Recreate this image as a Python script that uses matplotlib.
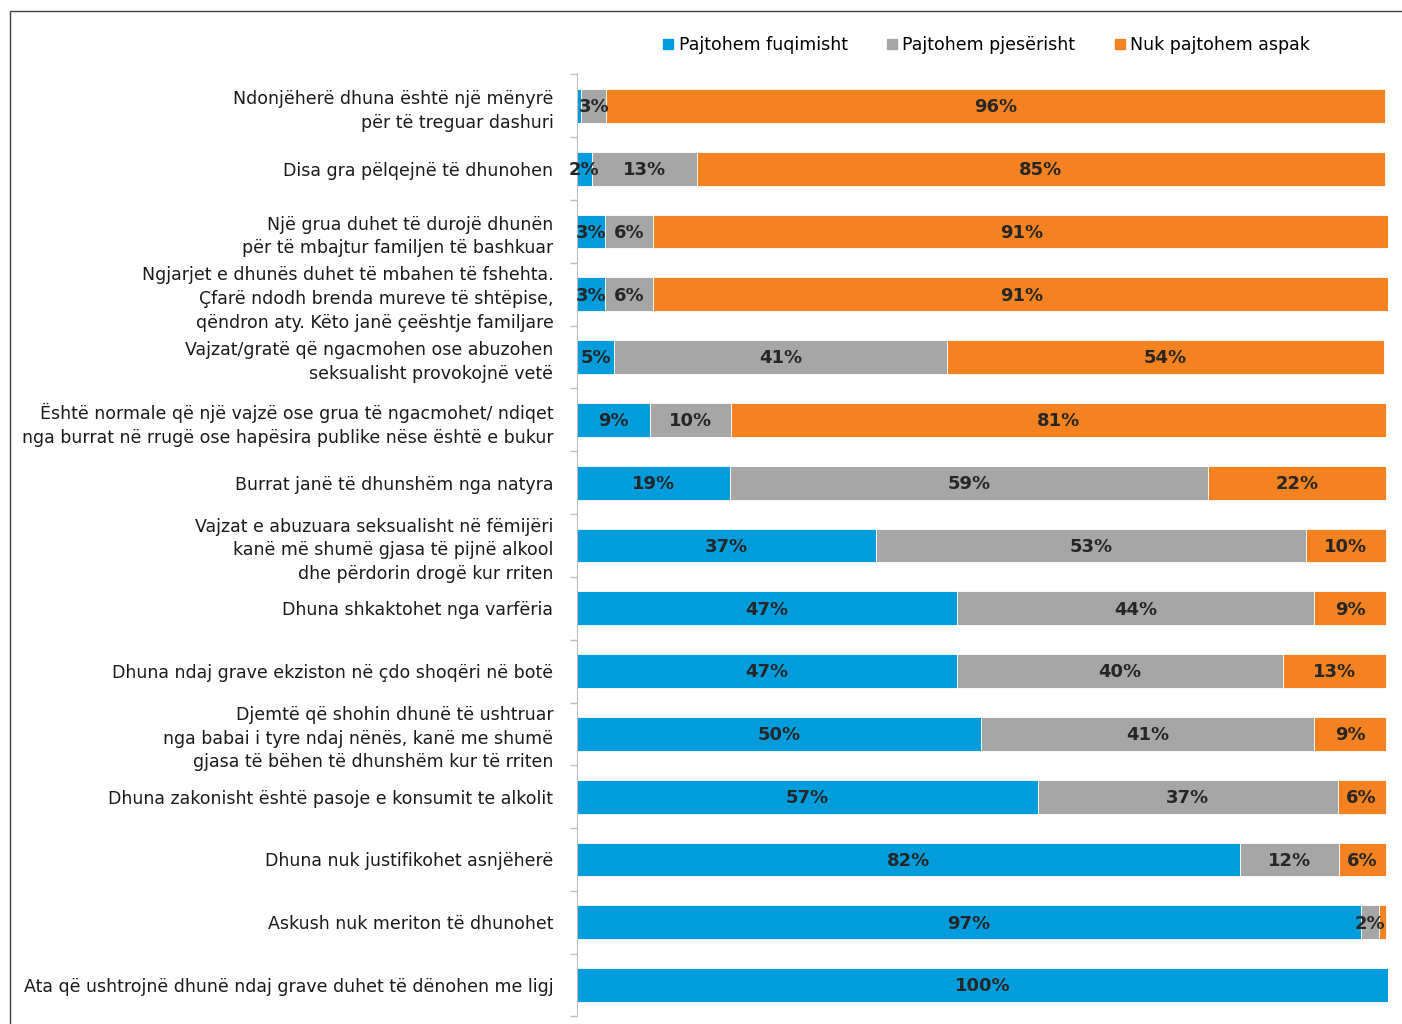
import matplotlib.pyplot as plt
from matplotlib.patches import Rectangle
from matplotlib.lines import Line2D
import numpy as np

# Données (pourcentages)
categories = [
    "Ndonjëherë dhuna është një mënyrë\npër të treguar dashuri",
    "Disa gra pëlqejnë të dhunohen",
    "Një grua duhet të durojë dhunën\npër të mbajtur familjen të bashkuar",
    "Ngjarjet e dhunës duhet të mbahen të fshehta.\nÇfarë ndodh brenda mureve të shtëpise,\nqëndron aty. Këto janë çeështje familjare",
    "Vajzat/gratë që ngacmohen ose abuzohen\nseksualisht provokojnë vetë",
    "Është normale që një vajzë ose grua të ngacmohet/ ndiqet\nnga burrat në rrugë ose hapësira publike nëse është e bukur",
    "Burrat janë të dhunshëm nga natyra",
    "Vajzat e abuzuara seksualisht në fëmijëri\nkanë më shumë gjasa të pijnë alkool\ndhe përdorin drogë kur rriten",
    "Dhuna shkaktohet nga varfëria",
    "Dhuna ndaj grave ekziston në çdo shoqëri në botë",
    "Djemtë që shohin dhunë të ushtruar\nnga babai i tyre ndaj nënës, kanë me shumë\ngjasa të bëhen të dhunshëm kur të rriten",
    "Dhuna zakonisht është pasoje e konsumit te alkolit",
    "Dhuna nuk justifikohet asnjëherë",
    "Askush nuk meriton të dhunohet",
    "Ata që ushtrojnë dhunë ndaj grave duhet të dënohen me ligj",
]
fuqimisht = [0.5, 1.8, 3.4, 3.4, 4.6, 9.0, 18.9, 36.9, 46.9, 46.9, 49.8, 56.8, 81.8, 96.7, 100.0]
pjeserisht = [3.1, 13.0, 6.0, 6.0, 41.0, 10.0, 58.9, 53.0, 44.0, 40.1, 41.1, 37.0, 12.1, 2.2, 0.0]
aspak = [96.0, 84.8, 90.8, 90.8, 53.9, 80.8, 21.9, 9.8, 8.9, 12.8, 8.9, 5.9, 5.9, 0.9, 0.0]
series_names = ["Pajtohem fuqimisht", "Pajtohem pjesërisht", "Nuk pajtohem aspak"]
colors = ["#009cdc", "#a6a6a6", "#f58220"]

plt.rcParams['font.family'] = ['DejaVu Sans']

fig = plt.figure(figsize=(14.02, 10.24), dpi=100)
ax = fig.add_axes([577 / 1402, 1 - 1016.5 / 1024, (1388 - 577) / 1402, (1016.5 - 74.5) / 1024])

n = len(categories)
y = np.arange(n)
left = np.zeros(n)
for vals, name, col in zip([fuqimisht, pjeserisht, aspak], series_names, colors):
    vals = np.array(vals)
    ax.barh(y, vals, left=left, height=0.54, color=col, edgecolor='white', linewidth=0.6, label=name)
    for yi, l, v in zip(y, left, vals):
        if v >= 1.5:
            ax.text(l + v / 2, yi + 0.02, f"{round(v)}%", ha='center', va='center',
                    fontsize=13, fontweight='bold', color='#262626')
    left = left + vals

ax.set_xlim(0, 100)
ax.set_ylim(n - 0.5, -0.5)
ax.set_xticks([])
ax.set_yticks(y)
ax.set_yticklabels(categories, fontsize=12.5, color='#1a1a1a', linespacing=1.4)
ax.set_yticks(np.arange(-0.5, n, 1), minor=True)
ax.tick_params(axis='y', which='major', length=0, pad=17)
ax.tick_params(axis='y', which='minor', length=5, color='#bfbfbf', width=1)
for s in ['top', 'right', 'bottom']:
    ax.spines[s].set_visible(False)
ax.spines['left'].set_color('#bfbfbf')

handles = [Line2D([0], [0], marker='s', linestyle='', markersize=7.5, markerfacecolor=c, markeredgecolor=c)
           for c in colors]
fig.legend(handles, series_names, loc='center', bbox_to_anchor=(986 / 1402, 1 - 45 / 1024),
           ncol=3, frameon=False, fontsize=12.5, handlelength=0.7, handletextpad=0.25, columnspacing=2.2)

# cadre autour du graphique
fig.patches.append(Rectangle((10 / 1402, -0.1), 2, 1.1 - 11 / 1024, transform=fig.transFigure,
                             fill=False, edgecolor='#404040', linewidth=1))

fig.savefig("out.png", dpi=100)
